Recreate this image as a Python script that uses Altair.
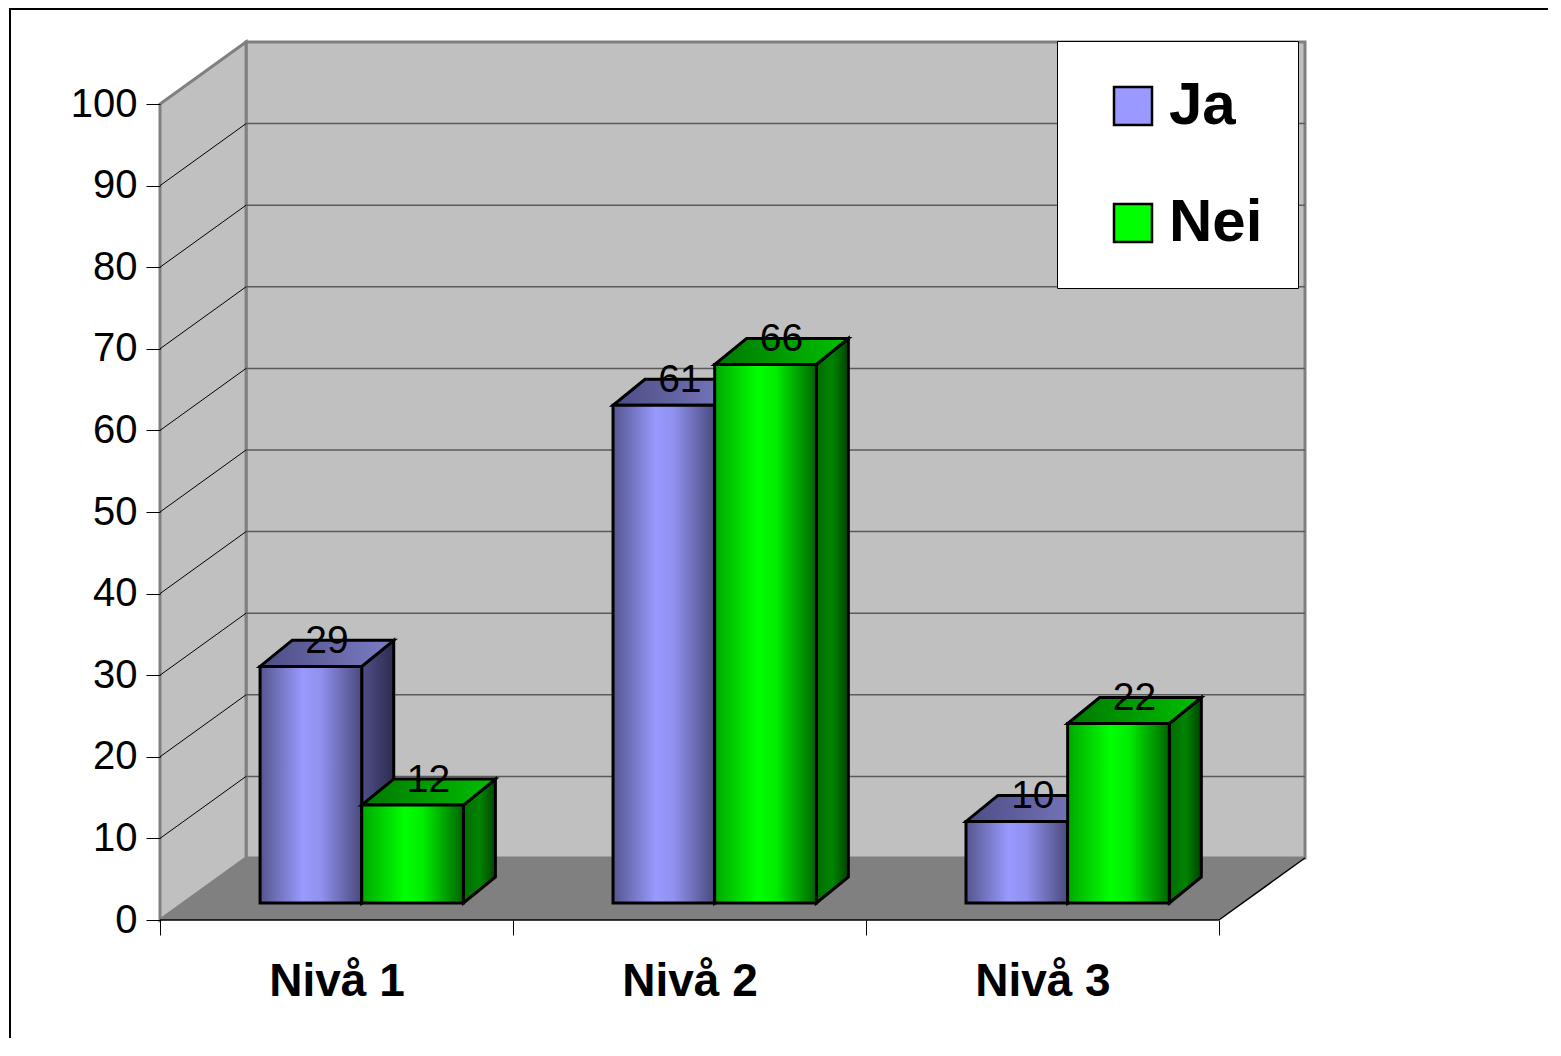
import json
import altair as alt
import pandas as pd

# ---------------- data ----------------
categories = ["Nivå 1", "Nivå 2", "Nivå 3"]
series = ["Ja", "Nei"]
ja_values = [29, 61, 10]
nei_values = [12, 66, 22]
y_ticks = list(range(0, 101, 10))
x_ticks = [0, 1, 2, 3]
series_colors = ["#9999FF", "#00FF00"]

# ---------------- geometry (scale units) ----------------
N = len(categories)
W, H = 1145, 878
DX, DY = 0.2439, 7.6          # depth of the walls
YTOP = 100
YMAX = YTOP + DY
BASE = 2.08                   # bar front base (depth offset)
BDX, BDY = 0.0907, 3.19       # bar depth
BAR_OFF, BAR_W = 0.2835, 0.288
PX_PER_CAT = W / (N + DX)

values_by_series = {"Ja": ja_values, "Nei": nei_values}

front_rows, side_rows, top_rows = [], [], []
for i, cat in enumerate(categories):
    for j, s in enumerate(series):
        v = values_by_series[s][i]
        x0 = i + BAR_OFF + j * BAR_W
        x1 = x0 + BAR_W
        bid = f"{cat}-{s}"
        front_rows.append(dict(series=s, bar=bid, x0=x0, x1=x1, y0=BASE, y1=BASE + v,
                               value=v, lx=(x0 + x1) / 2 + BDX / 2, ly=BASE + v + BDY / 2))
        side_rows += [dict(series=s, bar=bid, x=x1, lo=BASE, hi=BASE + v),
                      dict(series=s, bar=bid, x=x1 + BDX, lo=BASE + BDY, hi=BASE + BDY + v)]
        top_rows += [dict(series=s, bar=bid, y=BASE + v, xa=x0, xb=x1),
                     dict(series=s, bar=bid, y=BASE + v + BDY, xa=x0 + BDX, xb=x1 + BDX)]

front = pd.DataFrame(front_rows)
side = pd.DataFrame(side_rows)
top = pd.DataFrame(top_rows)

back_wall = pd.DataFrame([dict(x=DX, x2=N + DX, y=DY, y2=DY + YTOP)])
left_wall = pd.DataFrame([dict(x=0, lo=0, hi=YTOP), dict(x=DX, lo=DY, hi=DY + YTOP)])
floor = pd.DataFrame([dict(y=0, xa=0, xb=N), dict(y=DY, xa=DX, xb=N + DX)])
floor_edges = pd.DataFrame([dict(g="front", x=0, y=0), dict(g="front", x=N, y=0),
                            dict(g="right", x=N, y=0), dict(g="right", x=N + DX, y=DY)])
inner = y_ticks[1:-1]
back_grid = pd.DataFrame([dict(gx0=DX, gx1=N + DX, gy=DY + v) for v in inner])
side_grid = pd.DataFrame([r for v in inner for r in (dict(g=v, x=0, y=v), dict(g=v, x=DX, y=v + DY))])

xs = alt.Scale(domain=[0, N + DX], nice=False, zero=False)
ys = alt.Scale(domain=[0, YMAX], nice=False, zero=False)


def X(f, **kw):
    return alt.X(f"{f}:Q", scale=xs, title=None, **kw)


def Y(f, **kw):
    return alt.Y(f"{f}:Q", scale=ys, title=None, **kw)


def grad(stops):
    return {"gradient": "linear", "x1": 0, "y1": 0, "x2": 1, "y2": 0,
            "stops": [{"offset": o, "color": c} for o, c in stops]}


FONT = "Liberation Sans"
grads = {
    "Ja": dict(
        front=grad([(0, "#55558f"), (0.42, "#9999ff"), (0.6, "#9090ee"), (1, "#4a4a7d")]),
        side=grad([(0, "#50508a"), (1, "#2c2c4e")]),
        top=grad([(0, "#4c4c84"), (1, "#7d7dc6")]),
    ),
    "Nei": dict(
        front=grad([(0, "#00a800"), (0.42, "#00ff00"), (0.6, "#00ee00"), (1, "#006400")]),
        side=grad([(0, "#006c00"), (0.5, "#008400"), (1, "#004400")]),
        top=grad([(0, "#007800"), (1, "#00c000")]),
    ),
}

# frame around the whole chart
frame = alt.Chart(pd.DataFrame({"a": [0]})).mark_rect(
    fillOpacity=0, stroke="black", strokeWidth=2
).encode(x=alt.value(-150), x2=alt.value(W + 600), y=alt.value(-33), y2=alt.value(H + 600))

# legend carrier (invisible marks, real legend)
legend_layer = alt.Chart(front).mark_square(opacity=0).encode(
    x=X("lx"), y=Y("ly"),
    color=alt.Color("series:N", scale=alt.Scale(domain=series, range=series_colors),
                    legend=alt.Legend(
                        title=None, orient="none", legendX=897, legendY=-1,
                        fillColor="white", strokeColor="black", padding=35,
                        symbolType="square", symbolSize=1444, symbolOpacity=1,
                        symbolStrokeColor="black", symbolStrokeWidth=2.5,
                        symbolOffset=11, labelOffset=6, rowPadding=57,
                        labelFont=FONT, labelFontSize=60, labelFontWeight="bold",
                        labelColor="black", labelLimit=400)),
)

wall = alt.Chart(back_wall).mark_rect(fill="#C0C0C0", stroke="#808080", strokeWidth=3).encode(
    x=alt.X("x:Q", scale=xs, title=None, axis=alt.Axis(
        values=x_ticks, domain=False, grid=False, ticks=True, tickSize=15, tickColor="black",
        tickWidth=1,
        labelExpr=f"{json.dumps(categories, ensure_ascii=False)}[datum.value] || ''",
        labelOffset=PX_PER_CAT / 2, labelPadding=24, labelFont=FONT, labelFontSize=46,
        labelFontWeight="bold", labelColor="black", labelBound=False, labelOverlap=False,
        labelFlush=False, zindex=1)),
    x2="x2",
    y=alt.Y("y:Q", scale=ys, title=None, axis=alt.Axis(
        values=y_ticks, domain=False, grid=False, ticks=True, tickSize=14, tickColor="black",
        tickWidth=1, labelPadding=9, labelFont=FONT, labelFontSize=40, labelColor="black",
        labelOverlap=False, labelFlush=False, labelBound=False, zindex=1)),
    y2="y2",
)

lwall = alt.Chart(left_wall).mark_area(fill="#C0C0C0", stroke="#808080", strokeWidth=3).encode(
    x=X("x"), y=Y("lo"), y2="hi")

bgrid = alt.Chart(back_grid).mark_rule(color="#5a5a5a", strokeWidth=1.5).encode(
    x=X("gx0"), x2="gx1", y=Y("gy"))

sgrid = alt.Chart(side_grid).mark_line(color="black", strokeWidth=1).encode(
    x=X("x"), y=Y("y"), detail="g:N")

floor_l = alt.Chart(floor).mark_area(orient="horizontal", fill="#808080").encode(
    y=Y("y"), x=X("xa"), x2="xb")

fedges = alt.Chart(floor_edges).mark_line(color="black", strokeWidth=1.5).encode(
    x=X("x"), y=Y("y"), detail="g:N")

bar_layers = []
for s in series:
    g = grads[s]
    sd = side[side.series == s]
    td = top[top.series == s]
    fd = front[front.series == s]
    bar_layers.append(alt.Chart(sd).mark_area(fill=g["side"], stroke="black", strokeWidth=3).encode(
        x=X("x"), y=Y("lo"), y2="hi", detail="bar:N"))
    bar_layers.append(alt.Chart(td).mark_area(orient="horizontal", fill=g["top"], stroke="black",
                                              strokeWidth=3).encode(
        y=Y("y"), x=X("xa"), x2="xb", detail="bar:N"))
    bar_layers.append(alt.Chart(fd).mark_rect(fill=g["front"], stroke="black", strokeWidth=3).encode(
        x=X("x0"), x2="x1", y=Y("y0"), y2="y1"))

labels = alt.Chart(front).mark_text(font=FONT, fontSize=39, color="black", align="center",
                                    baseline="alphabetic").encode(
    x=X("lx"), y=Y("ly"), text="value:Q")

chart = alt.layer(
    wall, legend_layer, lwall, bgrid, sgrid, floor_l, fedges, *bar_layers, labels, frame
).properties(
    width=W, height=H,
    autosize=alt.AutoSizeParams(type="none"),
    padding={"left": 152, "top": 34, "right": 243, "bottom": 118},
    background="white",
).configure_view(strokeWidth=0).configure_axis(grid=False, domain=False)

chart.save("out.html", embed_options={"renderer": "svg", "actions": False})
